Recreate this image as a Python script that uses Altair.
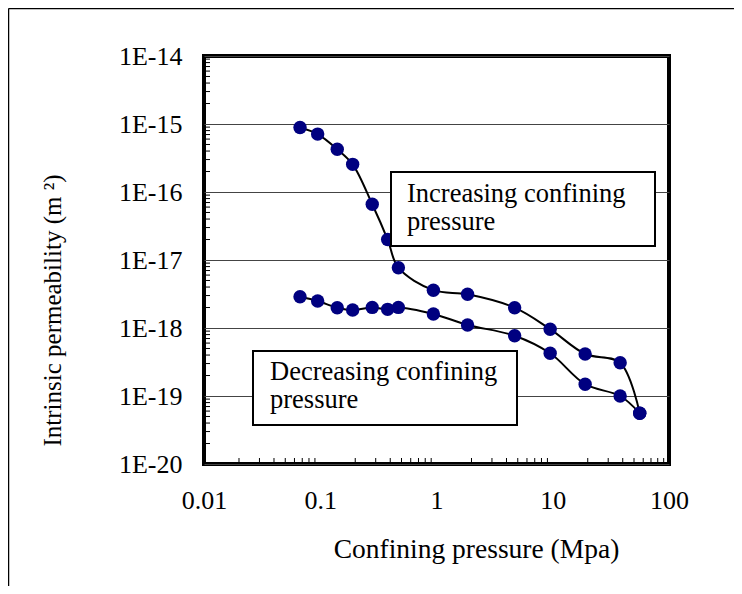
import altair as alt
import pandas as pd

# ---- data ----
pressure_mpa = [0.067, 0.095, 0.14, 0.19, 0.28, 0.38, 0.47, 0.94, 1.85, 4.7, 9.5, 19, 38, 56]
k_increasing = [8.9e-16, 7.1e-16, 4.25e-16, 2.55e-16, 6.6e-17, 2.0e-17, 7.7e-18,
                3.6e-18, 3.13e-18, 1.99e-18, 9.6e-19, 4.15e-19, 3.09e-19, 5.57e-20]
k_decreasing = [2.88e-18, 2.49e-18, 1.99e-18, 1.84e-18, 2.01e-18, 1.88e-18, 2.01e-18,
                1.61e-18, 1.11e-18, 7.7e-19, 4.25e-19, 1.49e-19, 1.0e-19, 5.57e-20]
series_names = ["Increasing", "Decreasing"]

x_ticks = [0.01, 0.1, 1, 10, 100]
y_ticks = [1e-20, 1e-19, 1e-18, 1e-17, 1e-16, 1e-15, 1e-14]
x_minor = [k * 10.0 ** n for n in range(-2, 2) for k in range(2, 10)]
y_minor = [k * 10.0 ** n for n in range(-20, -14) for k in range(2, 10)]

rows = []
for name, vals in zip(series_names, [k_increasing, k_decreasing]):
    for p, k in zip(pressure_mpa, vals):
        rows.append({"p": p, "k": k, "series": name})
df = pd.DataFrame(rows)

FONT = "Liberation Serif"
W, H = 465, 408

xscale = alt.Scale(type="log", domain=[0.01, 100], nice=False)
yscale = alt.Scale(type="log", domain=[1e-20, 1e-14], nice=False)

x_enc = alt.X("p:Q", scale=xscale,
              axis=alt.Axis(values=x_ticks, format="~g", grid=False, ticks=False, domain=False,
                            labelFlush=False, labelPadding=23, labelFontSize=26, labelFont=FONT,
                            title="Confining pressure (Mpa)", titleFont=FONT, titleFontSize=27.5,
                            titleFontWeight="normal", titleX=272, titleY=93,
                            titleBaseline="alphabetic", titleAlign="center"))
y_enc = alt.Y("k:Q", scale=yscale,
              axis=alt.Axis(values=y_ticks, labelExpr="'1E' + round(log(datum.value)/LN10)",
                            grid=True, gridColor="#444444", gridWidth=1,
                            ticks=False, domain=False, labelFlush=False, labelPadding=22,
                            labelFontSize=26, labelFont=FONT,
                            title="Intrinsic permeability (m \u00b2)", titleFont=FONT,
                            titleFontSize=25, titleFontWeight="normal", titleAngle=270,
                            titleX=-144, titleY=254, titleBaseline="alphabetic",
                            titleAlign="center"))

one = pd.DataFrame({"a": [0]})
frame_top = alt.Chart(one).mark_rule(color="black", strokeWidth=1.5).encode(
    x=alt.value(-195.5), x2=alt.value(532), y=alt.value(-47.5))
frame_left = alt.Chart(one).mark_rule(color="black", strokeWidth=1.5).encode(
    x=alt.value(-195.5), y=alt.value(-47.5), y2=alt.value(540))

lines = alt.Chart(df).mark_line(color="black", strokeWidth=2, interpolate="catmull-rom").encode(
    x=x_enc, y=y_enc, detail="series:N", order="p:Q"
)
points = alt.Chart(df).mark_point(filled=True, color="#000080", opacity=1, size=180).encode(
    x="p:Q", y="k:Q"
)

yminor = alt.Chart(pd.DataFrame({"k": y_minor})).mark_rule(color="black", strokeWidth=1).encode(
    y="k:Q", x=alt.value(0), x2=alt.value(6)
)
xminor = alt.Chart(pd.DataFrame({"p": x_minor})).mark_rule(color="black", strokeWidth=1).encode(
    x="p:Q", y=alt.value(H), y2=alt.value(H - 6)
)

box_inc = alt.Chart(one).mark_rect(
    fill="white", stroke="black", strokeWidth=2
).encode(x=alt.value(187), x2=alt.value(451), y=alt.value(116), y2=alt.value(190))
txt_inc = alt.Chart(one).mark_text(
    align="left", baseline="alphabetic", font=FONT, fontSize=26.5, lineHeight=28,
    text=["Increasing confining", "pressure"], color="black"
).encode(x=alt.value(203), y=alt.value(145.5))

box_dec = alt.Chart(one).mark_rect(
    fill="white", stroke="black", strokeWidth=2
).encode(x=alt.value(49), x2=alt.value(313), y=alt.value(295), y2=alt.value(369))
txt_dec = alt.Chart(one).mark_text(
    align="left", baseline="alphabetic", font=FONT, fontSize=26.5, lineHeight=28,
    text=["Decreasing confining", "pressure"], color="black"
).encode(x=alt.value(66), y=alt.value(324))

chart = alt.layer(
    frame_top, frame_left, lines, points, yminor, xminor, box_inc, txt_inc, box_dec, txt_dec
).properties(
    width=W, height=H,
    autosize=alt.AutoSizeParams(type="none"),
    padding={"left": 196, "top": 48, "right": 65, "bottom": 122},
).configure_view(
    stroke="black", strokeWidth=4
).configure_axis(
    labelColor="black", titleColor="black"
)

chart.save("out.html", embed_options={"renderer": "svg", "actions": False})
